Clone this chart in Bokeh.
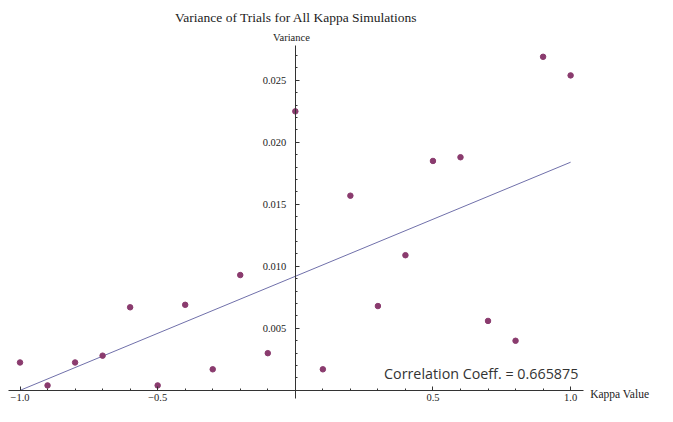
from bokeh.plotting import figure
from bokeh.models import Range1d, FixedTicker, Label, ColumnDataSource
from bokeh.embed import file_html
from bokeh.resources import INLINE

# ---- data ----
kappa = [-1.0, -0.9, -0.8, -0.7, -0.6, -0.5, -0.4, -0.3, -0.2, -0.1,
         0.0, 0.1, 0.2, 0.3, 0.4, 0.5, 0.6, 0.7, 0.8, 0.9, 1.0]
variance = [0.00225, 0.0004, 0.00225, 0.0028, 0.0067, 0.0004, 0.0069, 0.0017,
            0.0093, 0.0030, 0.0225, 0.0017, 0.0157, 0.0068, 0.0109, 0.0185,
            0.0188, 0.0056, 0.0040, 0.0269, 0.0254]
fit_intercept = 0.0092
fit_slope = 0.0092
fit_x = [-1.0, 1.0]
x_ticks = [-1.0, -0.5, 0.5, 1.0]
x_tick_labels = ["\u22121.0", "\u22120.5", "0.5", "1.0"]
y_ticks = [0.005, 0.010, 0.015, 0.020, 0.025]
y_tick_labels = ["0.005", "0.010", "0.015", "0.020", "0.025"]
title_text = "Variance of Trials for All Kappa Simulations"
x_label = "Kappa Value"
y_label = "Variance"
corr_text = "Correlation Coeff. = 0.665875"

SERIF = "Liberation Serif"

p = figure(width=657, height=406, output_backend="svg", toolbar_location=None,
           title=None, x_range=Range1d(-1.0709, 1.3156), y_range=Range1d(-0.0013, 0.03144),
           min_border_left=0, min_border_right=0, min_border_top=0, min_border_bottom=0)
p.outline_line_color = None
p.xgrid.visible = False
p.ygrid.visible = False
p.background_fill_color = "white"
p.border_fill_color = "white"

# axes crossing at the origin
p.xaxis.fixed_location = 0
p.yaxis.fixed_location = 0
p.xaxis.bounds = (-1.0426, 1.046)
p.yaxis.bounds = (-0.00067, 0.0278)
for ax in (p.xaxis[0], p.yaxis[0]):
    ax.axis_line_color = "#333333"
    ax.axis_line_width = 1
    ax.major_tick_line_color = "#333333"
    ax.minor_tick_line_color = "#333333"
    ax.major_tick_in = 4
    ax.major_tick_out = 0
    ax.minor_tick_in = 2
    ax.minor_tick_out = 0
    ax.major_label_text_font = SERIF
    ax.major_label_text_font_size = "10.5px"
    ax.major_label_text_color = "#222222"

p.xaxis.ticker = FixedTicker(ticks=x_ticks,
                             minor_ticks=[round(-1.0 + 0.1 * i, 2) for i in range(21)
                                          if round(-1.0 + 0.1 * i, 2) != 0.0])
p.xaxis.major_label_overrides = {t: l for t, l in zip(x_ticks, x_tick_labels)}
p.xaxis.major_label_standoff = 4

p.yaxis.ticker = FixedTicker(ticks=y_ticks,
                             minor_ticks=[round(0.001 * i, 3) for i in range(1, 28)])
p.yaxis.major_label_overrides = {t: l for t, l in zip(y_ticks, y_tick_labels)}
p.yaxis.major_label_standoff = 9

# fit line
fit_y = [fit_intercept + fit_slope * x for x in fit_x]
p.line(fit_x, fit_y, line_color="#7070aa", line_width=1)

# points
src = ColumnDataSource(dict(x=kappa, y=variance))
p.scatter("x", "y", source=src, size=5.5, fill_color="#8a3b6e", line_color="#8a3b6e")

# texts
p.add_layout(Label(x=0.0035, y=0.03005, text=title_text, text_align="center",
                   text_baseline="middle", text_font=SERIF, text_font_size="13.5px",
                   text_color="#222222"))
p.add_layout(Label(x=-0.014, y=0.02842, text=y_label, text_align="center",
                   text_baseline="middle", text_font=SERIF, text_font_size="10.5px",
                   text_color="#222222"))
p.add_layout(Label(x=1.071, y=-0.00029, text=x_label, text_align="left",
                   text_baseline="middle", text_font=SERIF, text_font_size="11.5px",
                   text_color="#222222"))
p.add_layout(Label(x=1.028, y=0.00135, text=corr_text, text_align="right",
                   text_baseline="middle", text_font="Open Sans", text_font_size="14.3px",
                   text_color="#333333"))

open("out.html", "w").write(file_html(p, INLINE))
